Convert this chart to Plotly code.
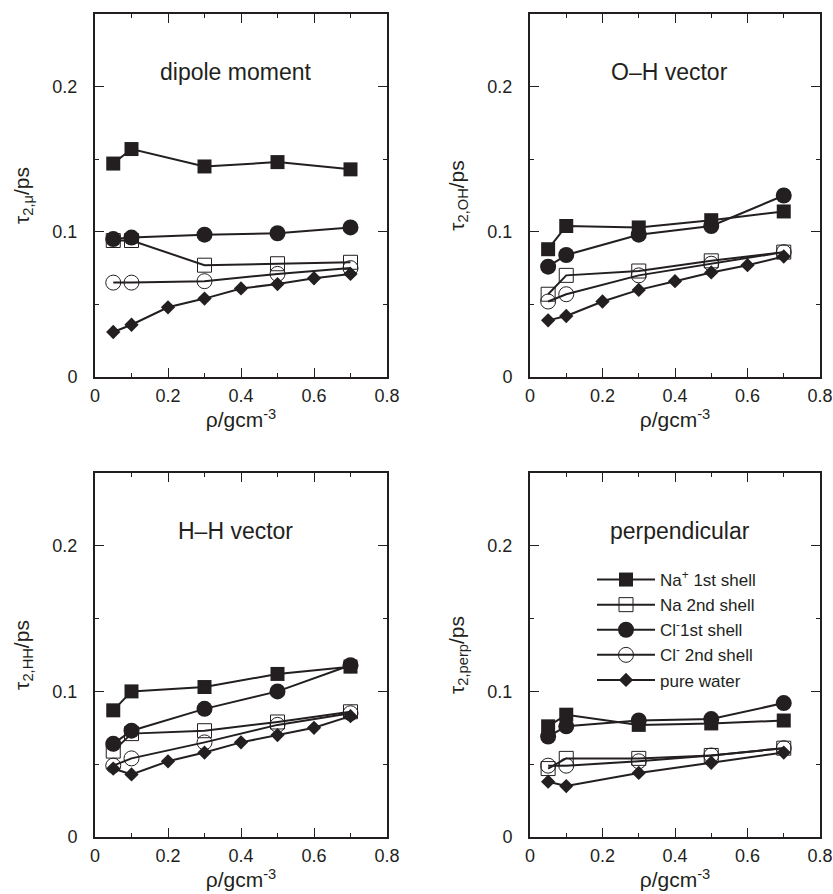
import plotly.graph_objects as go

# ---------------- data ----------------
rho = [0.05, 0.1, 0.3, 0.5, 0.7]
rho_water = [0.05, 0.1, 0.2, 0.3, 0.4, 0.5, 0.6, 0.7]
rho_water_perp = [0.05, 0.1, 0.3, 0.5, 0.7]

series_names = ["Na<sup>+</sup> 1st shell", "Na 2nd shell", "Cl<sup>-</sup>1st shell",
                "Cl<sup>-</sup> 2nd shell", "pure water"]

# dipole moment
dip_na1 = [0.147, 0.157, 0.145, 0.148, 0.143]
dip_na2 = [0.094, 0.094, 0.077, 0.078, 0.079]
dip_cl1 = [0.095, 0.096, 0.098, 0.099, 0.103]
dip_cl2 = [0.065, 0.065, 0.066, 0.071, 0.075]
dip_water = [0.031, 0.036, 0.048, 0.054, 0.061, 0.064, 0.068, 0.071]

# O-H vector
oh_na1 = [0.088, 0.104, 0.103, 0.108, 0.114]
oh_na2 = [0.057, 0.070, 0.073, 0.080, 0.086]
oh_cl1 = [0.076, 0.084, 0.098, 0.104, 0.125]
oh_cl2 = [0.052, 0.057, 0.070, 0.078, 0.086]
oh_water = [0.039, 0.042, 0.052, 0.060, 0.066, 0.072, 0.077, 0.083]

# H-H vector
hh_na1 = [0.087, 0.100, 0.103, 0.112, 0.117]
hh_na2 = [0.059, 0.071, 0.073, 0.079, 0.086]
hh_cl1 = [0.064, 0.073, 0.088, 0.100, 0.118]
hh_cl2 = [0.049, 0.054, 0.065, 0.077, 0.085]
hh_water = [0.047, 0.043, 0.052, 0.058, 0.065, 0.070, 0.075, 0.083]

# perpendicular
pp_na1 = [0.076, 0.084, 0.077, 0.078, 0.080]
pp_na2 = [0.047, 0.054, 0.054, 0.056, 0.061]
pp_cl1 = [0.069, 0.076, 0.080, 0.081, 0.092]
pp_cl2 = [0.049, 0.049, 0.052, 0.056, 0.061]
pp_water = [0.038, 0.035, 0.044, 0.051, 0.058]

panel_titles = ["dipole moment", "O\u2013H vector", "H\u2013H vector", "perpendicular"]
y_titles = ["\u03c4<sub>2,\u03bc</sub>/ps", "\u03c4<sub>2,OH</sub>/ps",
            "\u03c4<sub>2,HH</sub>/ps", "\u03c4<sub>2,perp</sub>/ps"]
x_title = "\u03c1/gcm<sup>-3</sup>"

x_tickvals = [0, 0.2, 0.4, 0.6, 0.8]
x_ticktext = ["0", "0.2", "0.4", "0.6", "0.8"]
x_minor = [0.1, 0.3, 0.5, 0.7]
y_tickvals = [0, 0.1, 0.2]
y_ticktext = ["0", "0.1", "0.2"]
y_minor = [0.05, 0.15]

panels = [
    (dip_na1, dip_na2, dip_cl1, dip_cl2, dip_water, rho_water),
    (oh_na1, oh_na2, oh_cl1, oh_cl2, oh_water, rho_water),
    (hh_na1, hh_na2, hh_cl1, hh_cl2, hh_water, rho_water),
    (pp_na1, pp_na2, pp_cl1, pp_cl2, pp_water, rho_water_perp),
]

# ---------------- styling ----------------
INK = "#231f20"
FONT = "Liberation Sans, Arial, Helvetica, sans-serif"
W, H = 833, 894

markers = [
    dict(symbol="square", size=14, color=INK),
    dict(symbol="square-open", size=14, color=INK, line=dict(width=1)),
    dict(symbol="circle", size=16, color=INK),
    dict(symbol="circle-open", size=15, color=INK, line=dict(width=1)),
    dict(symbol="diamond", size=11, color=INK),
]

# plot areas in page pixels (left, right, top, bottom)
px_dom = [
    (95, 387, 14, 377),
    (530, 820, 14, 377),
    (95, 387, 473, 837),
    (530, 820, 473, 837),
]


def fx(p):
    return p / W


def fy(p):
    return 1 - p / H


fig = go.Figure()

for i, (p, (l, r, t, b)) in enumerate(zip(panels, px_dom)):
    na1, na2, cl1, cl2, water, xw = p
    ax = "" if i == 0 else str(i + 1)
    ys = [na1, na2, cl1, cl2, water]
    xs = [rho, rho, rho, rho, xw]
    for k in range(5):
        fig.add_trace(go.Scatter(
            x=xs[k], y=ys[k], mode="lines+markers",
            name=series_names[k],
            line=dict(color=INK, width=2),
            marker=markers[k],
            showlegend=(i == 3),
            xaxis="x" + ax, yaxis="y" + ax,
        ))
    common = dict(
        showline=True, linecolor=INK, linewidth=2, mirror="ticks",
        ticks="inside", ticklen=9, tickwidth=1, tickcolor=INK,
        showgrid=False, zeroline=False, automargin=False,
        ticklabeloverflow="allow",
        tickfont=dict(family=FONT, size=18, color=INK),
        title_font=dict(family=FONT, size=21, color=INK),
    )
    fig.layout["xaxis" + ax] = dict(
        common, domain=[fx(l), fx(r)], anchor="y" + ax, range=[0, 0.8],
        tickmode="array", tickvals=x_tickvals, ticktext=x_ticktext,
        minor=dict(tickvals=x_minor, ticks="inside", ticklen=4, tickcolor=INK),
        ticklabelstandoff=1,
        title=dict(text=x_title, standoff=0),
    )
    fig.layout["yaxis" + ax] = dict(
        common, domain=[fy(b), fy(t)], anchor="x" + ax, range=[0, 0.25],
        tickmode="array", tickvals=y_tickvals, ticktext=y_ticktext,
        minor=dict(tickvals=y_minor, ticks="inside", ticklen=4, tickcolor=INK),
        ticklabelstandoff=12,
        title=dict(text=y_titles[i], standoff=17),
    )
    fig.add_annotation(
        x=0.385 if i < 3 else 0.415, y=0.21, xref="x" + ax, yref="y" + ax,
        text=panel_titles[i], showarrow=False,
        font=dict(family=FONT, size=23, color=INK),
    )

fig.update_layout(
    template="none",
    width=W, height=H, autosize=False,
    margin=dict(l=0, r=0, t=0, b=0),
    paper_bgcolor="white", plot_bgcolor="white",
    showlegend=True,
    legend=dict(
        x=fx(592), y=fy(562), xanchor="left", yanchor="top",
        bgcolor="rgba(0,0,0,0)", borderwidth=0,
        font=dict(family=FONT, size=17, color=INK),
        itemwidth=58, tracegroupgap=0,
    ),
)

fig.write_html(
    "out.html",
    config={"displayModeBar": False},
    post_script="document.body.style.margin='0';"
                "document.documentElement.style.overflow='hidden';",
)
